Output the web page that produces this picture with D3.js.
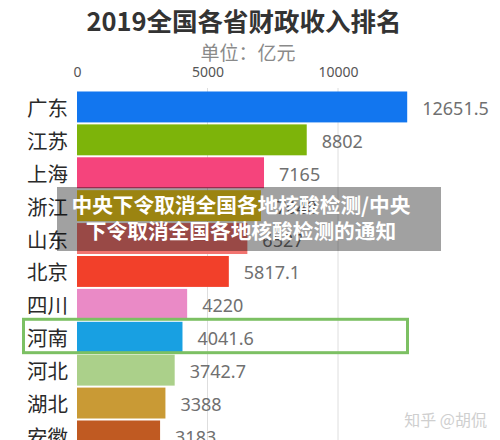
<!DOCTYPE html>
<html><head><meta charset="utf-8">
<script src="https://cdn.jsdelivr.net/npm/d3@7"></script>
<style>
html,body{margin:0;padding:0;background:#fff;}
svg{display:block;font-family:"Noto Sans CJK SC","Noto Sans",sans-serif;}
</style></head>
<body>
<svg id="c" width="500" height="440"></svg>
<script>
const categories = ["广东","江苏","上海","浙江","山东","北京","四川","河南","河北","湖北","安徽"];
const values = [12651.5, 8802, 7165, 7048, 6527, 5817.1, 4220, 4041.6, 3742.7, 3388, 3183];
const valueLabels = ["12651.5","8802","7165","7048","6527","5817.1","4220","4041.6","3742.7","3388","3183"];
const barColors = ["#1276ef","#7db40a","#f5447c","#f6d21c","#f27470","#f2402a","#ea8ac6","#18a0e2","#abd08a","#c99a35","#c05a22"];
const tickValues = [0, 5000, 10000];
const highlight = "河南";
const title = "2019全国各省财政收入排名";
const subtitle = "单位：亿元";
const overlayLines = ["中央下令取消全国各地核酸检测/中央","下令取消全国各地核酸检测的通知"];
const watermark = "知乎 @胡侃";

const svg = d3.select("#c");
const x = d3.scaleLinear().domain([0, 10000]).range([77, 338]);
const y = d3.scaleBand().domain(categories).range([90.5, 90.5 + 11 * 32.9]).paddingInner(0.06).paddingOuter(0.03);

// title
svg.append("text").attr("x", 244).attr("y", 19).attr("text-anchor","middle").attr("dominant-baseline","central")
  .attr("font-size", 25.5).attr("font-weight", 700).attr("fill", "#333").text(title);
svg.append("text").attr("x", 248).attr("y", 51).attr("text-anchor","middle").attr("dominant-baseline","central")
  .attr("font-size", 19).attr("fill", "#8a8a8a").text(subtitle);

// gridlines
svg.append("g").selectAll("line").data(tickValues.filter(d => d > 0)).join("line")
  .attr("x1", d => x(d)).attr("x2", d => x(d)).attr("y1", 88).attr("y2", 440)
  .attr("stroke", "#dedede").attr("stroke-width", 1);

// top axis
const axis = svg.append("g").attr("transform", "translate(0,85)")
  .call(d3.axisTop(x).tickValues(tickValues).tickSize(0).tickPadding(8).tickFormat(d3.format("d")));
axis.select(".domain").remove();
axis.selectAll("text").attr("font-size", 14).attr("fill", "#555").attr("font-family", "'Noto Sans','Noto Sans CJK SC',sans-serif");

// bars
svg.append("g").selectAll("rect").data(categories).join("rect")
  .attr("x", x(0)).attr("y", d => y(d)).attr("height", y.bandwidth())
  .attr("width", (d, i) => x(values[i]) - x(0)).attr("fill", (d, i) => barColors[i]);

// category labels
svg.append("g").selectAll("text").data(categories).join("text")
  .attr("x", 68).attr("y", d => y(d) + y.bandwidth() / 2).attr("text-anchor", "end").attr("dominant-baseline", "central")
  .attr("font-size", 20.5).attr("fill", "#2a2a2a").text(d => d);

// value labels
svg.append("g").selectAll("text").data(categories).join("text")
  .attr("x", (d, i) => x(values[i]) + 15).attr("y", d => y(d) + y.bandwidth() / 2 + 1).attr("dominant-baseline", "central")
  .attr("font-size", 18).attr("fill", "#707070").attr("font-family", "'Noto Sans','Noto Sans CJK SC',sans-serif")
  .text((d, i) => valueLabels[i]);

// highlight box
svg.append("rect").attr("x", 23.5).attr("y", y(highlight) - 2.5).attr("width", 384).attr("height", y.step() + 0.5)
  .attr("fill", "none").attr("stroke", "#7cc063").attr("stroke-width", 3);

// watermark
svg.append("text").attr("x", 487).attr("y", 419).attr("text-anchor", "end").attr("dominant-baseline", "central")
  .attr("font-size", 16).attr("fill", "#cfcfcf").text(watermark);

// overlay
svg.append("rect").attr("x", 57).attr("y", 187).attr("width", 384).attr("height", 64).attr("fill", "rgba(0,0,0,0.37)");
svg.append("g").selectAll("text").data(overlayLines).join("text")
  .attr("x", 241).attr("y", (d, i) => 204 + i * 26).attr("text-anchor", "middle").attr("dominant-baseline", "central")
  .attr("font-size", 20.7).attr("font-weight", 700).attr("fill", "#fff").text(d => d);
</script>
</body></html>
